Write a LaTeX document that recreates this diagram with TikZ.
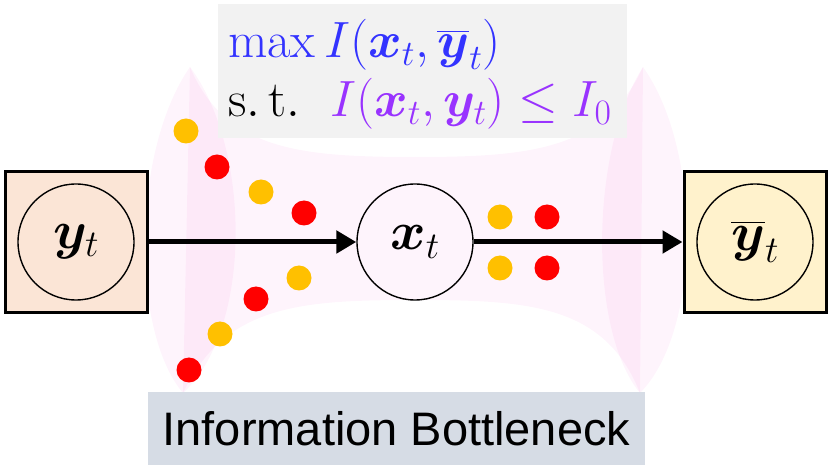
\RequirePackage{fix-cm}
\documentclass[tikz,border=0pt]{standalone}
\usepackage{amsmath,bm}
\usepackage{fontspec}
\newfontfamily\arialfont{Liberation Sans}
\usetikzlibrary{arrows.meta}
\definecolor{funnel}{RGB}{240,105,210}
\definecolor{peach}{RGB}{251,229,214}
\definecolor{cream}{RGB}{255,242,204}
\definecolor{formgray}{RGB}{242,242,242}
\definecolor{labgray}{RGB}{214,220,229}
\definecolor{dotyellow}{RGB}{255,192,0}
\definecolor{dotred}{RGB}{255,0,0}
\definecolor{mblue}{RGB}{51,51,255}
\definecolor{mpurple}{RGB}{153,51,255}
\tikzset{
  outbox/.style={draw=black,line width=3pt,minimum width=142pt,minimum height=141pt,inner sep=0pt},
  varcirc/.style={circle,draw=black,line width=1.4pt,minimum size=116pt,inner sep=0pt,font=\fontsize{54}{58}\selectfont},
  flow/.style={line width=5pt,-{Triangle[length=20pt,width=22pt]}},
  ydot/.style={circle,fill=dotyellow,minimum size=25pt,inner sep=0pt},
  rdot/.style={circle,fill=dotred,minimum size=25pt,inner sep=0pt},
  funfill/.style={fill=funnel,fill opacity=0.075},
  formula/.style={font=\fontsize{51}{55}\selectfont,inner sep=0pt,anchor=base west}
}
\begin{document}
\begin{tikzpicture}[x=1pt,y=-1pt]
\useasboundingbox (0,0) rectangle (831,470);
% funnel body
\fill[funfill] (190,67) .. controls (225,150) and (300,157) .. (415,157)
  .. controls (530,157) and (605,150) .. (643,67) -- (640,393)
  .. controls (605,305) and (530,300) .. (415,300)
  .. controls (300,300) and (225,305) .. (183,393) -- cycle;
% end lenses
\fill[funfill] (190,67) .. controls (132,150) and (130,330) .. (183,393)
  .. controls (252,330) and (252,150) .. (190,67) -- cycle;
\fill[funfill] (643,67) .. controls (590,150) and (588,330) .. (640,393)
  .. controls (702,330) and (702,150) .. (643,67) -- cycle;
% formula box
\fill[formgray] (218,4) rectangle (627,138);
\node[formula,text=mblue] (l1) at (228,58) {$\max I(\bm{x}_t,\overline{\bm{y}}_t)$};
\node[formula] (l2a) at (228,117) {$\mathrm{s.\,t.}$};
\node[formula,text=mpurple] (l2b) at (330,117) {$I(\bm{x}_t,\bm{y}_t)\leq I_0$};
% boxes and circles
\node[outbox,fill=peach] (ybox) at (76,242) {};
\node[varcirc] (y) at (76,242) {$\bm{y}_t$};
\node[outbox,fill=cream] (ybbox) at (755,242) {};
\node[varcirc] (yb) at (755,242) {$\overline{\bm{y}}_t$};
\node[varcirc] (x) at (415,242) {$\bm{x}_t$};
\draw[flow] (ybox.east) -- (x.west);
\draw[flow] (x.east) -- (ybbox.west);
% dots
\node[ydot] (d1) at (186,131) {};
\node[rdot] (d2) at (217,167) {};
\node[ydot] (d3) at (261,192) {};
\node[rdot] (d4) at (304,213) {};
\node[ydot] (d5) at (299,278) {};
\node[rdot] (d6) at (256,299) {};
\node[ydot] (d7) at (220,334) {};
\node[rdot] (d8) at (189,370) {};
\node[ydot] (d9) at (500,217) {};
\node[rdot] (d10) at (547,217) {};
\node[ydot] (d11) at (500,268) {};
\node[rdot] (d12) at (547,268) {};
% label
\node[fill=labgray,minimum width=497pt,minimum height=73pt,inner sep=0pt,font=\arialfont\fontsize{47}{52}\selectfont] (lab) at (396.5,428.5) {Information Bottleneck};
\end{tikzpicture}
\end{document}
